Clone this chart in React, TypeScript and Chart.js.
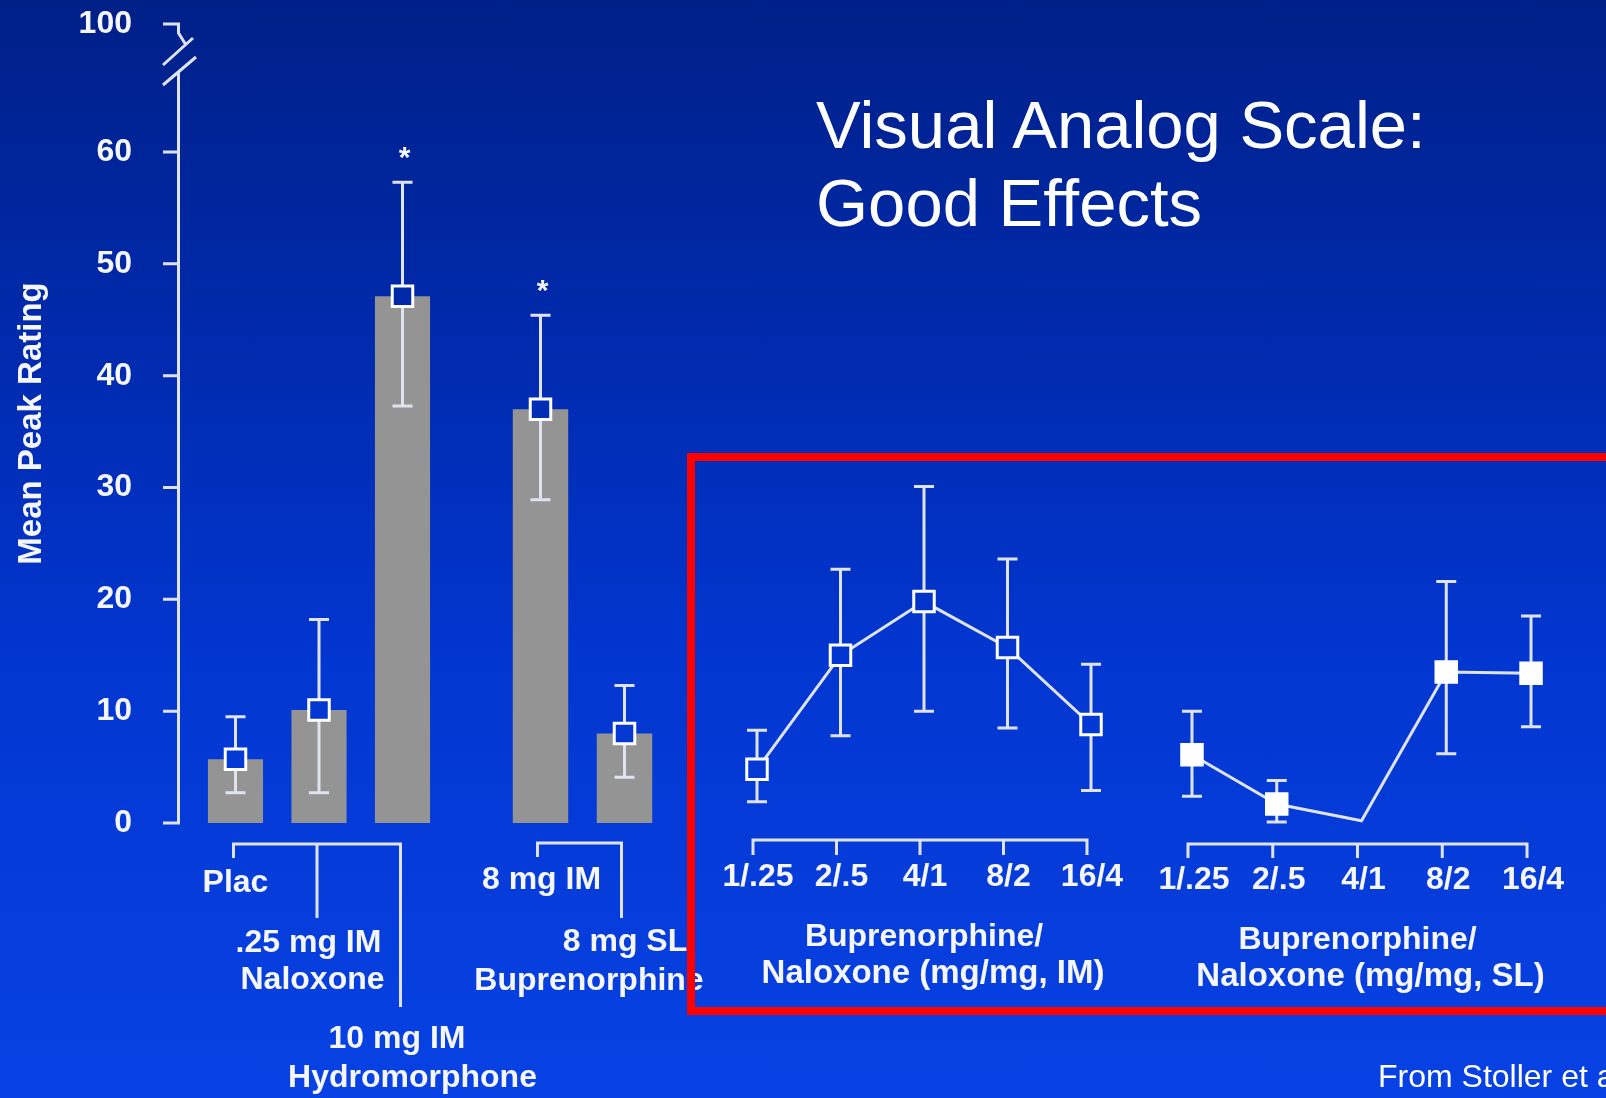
import React, { useEffect, useRef } from 'react';
import { Chart, registerables } from 'chart.js';

Chart.register(...registerables);

// ---------------- data ----------------
const yTickValues = [0, 10, 20, 30, 40, 50, 60, 71.45];
const yTickLabels = ['0', '10', '20', '30', '40', '50', '60', '100'];
const yTitle = 'Mean Peak Rating';

const controlCategories = [['Plac'], ['.25 mg IM', 'Naloxone'], ['10 mg IM', 'Hydromorphone']];
const controlMeans = [5.7, 10.1, 47.1];
const controlErrLow = [2.7, 2.7, 37.3];
const controlErrHigh = [9.5, 18.2, 57.3];
const controlSignificant = [false, false, true];

const buprenorphineCategories = ['8 mg IM', '8 mg SL'];
const buprenorphineGroup = 'Buprenorphine';
const buprenorphineMeans = [37.0, 8.0];
const buprenorphineErrLow = [28.9, 4.1];
const buprenorphineErrHigh = [45.4, 12.3];
const buprenorphineSignificant = [true, false];

const doseLabels = ['1/.25', '2/.5', '4/1', '8/2', '16/4'];

const imTitle = ['Buprenorphine/', 'Naloxone (mg/mg, IM)'];
const imMeans = [4.8, 15.0, 19.8, 15.7, 8.8];
const imErrLow = [1.9, 7.8, 10.0, 8.5, 2.9];
const imErrHigh = [8.3, 22.7, 30.1, 23.6, 14.2];

const slTitle = ['Buprenorphine/', 'Naloxone (mg/mg, SL)'];
const slMeans = [6.1, 1.7, 0.2, 13.5, 13.4];
const slErrLow = [2.4, 0.1, null, 6.2, 8.6];
const slErrHigh = [10.0, 3.8, null, 21.6, 18.5];
const slMarkerShown = [true, true, false, true, true];

const chartTitle = ['Visual Analog Scale:', 'Good Effects'];
const sourceNote = 'From Stoller et al.';

// ---------------- style / layout ----------------
const W = 1606;
const H = 1098;
const FONT = '"Liberation Sans", Arial, Helvetica, sans-serif';
const TEXT_COLOR = '#f4f6fc';
const AXIS_COLOR = '#dfe3f0';
const BAR_COLOR = '#949494';
const PLOT_TOP = 24;
const PLOT_BOTTOM = 823;
const Y_MAX = yTickValues[yTickValues.length - 1];
const AXIS_X = 178.5;
const TICK_LEN = 15.5;
const CAP_HALF = 10;
const MARKER_RADIUS = 14.5;
const LABEL_FONT = `bold 32px ${FONT}`;
const Y_LABEL_RIGHT = 132;
const BAR_BASE = -0.45;

const PANELS = {
  control: { left: 193.75, right: 444.25 },
  bup: { left: 498.5, right: 666.5 },
  im: { left: 715.25, right: 1132.75 },
  sl: { left: 1149.6, right: 1573.4 },
};

const BG_STOPS: [number, number[]][] = [
  [0, [0, 32, 136]],
  [0.3, [0, 42, 172]],
  [0.6, [2, 54, 208]],
  [1, [8, 66, 228]],
];
const BG_CSS = `linear-gradient(180deg, ${BG_STOPS.map(([t, c]) => `rgb(${c.join(',')}) ${t * 100}%`).join(', ')})`;

function bgColorAt(py: number) {
  const t = Math.min(1, Math.max(0, py / H));
  for (let i = 1; i < BG_STOPS.length; i++) {
    const [t0, c0] = BG_STOPS[i - 1];
    const [t1, c1] = BG_STOPS[i];
    if (t <= t1) {
      const f = (t - t0) / (t1 - t0);
      return `rgb(${c0.map((c, k) => Math.round(c + (c1[k] - c) * f)).join(',')})`;
    }
  }
  return `rgb(${BG_STOPS[BG_STOPS.length - 1][1].join(',')})`;
}

function yScale(show: boolean, axisWidth: number): any {
  const base: any = {
    type: 'linear',
    min: 0,
    max: Y_MAX,
    display: show,
    afterBuildTicks: (s: any) => {
      s.ticks = yTickValues.map((v) => ({ value: v }));
    },
  };
  if (!show) return base;
  return {
    ...base,
    afterFit: (s: any) => {
      s.width = axisWidth;
    },
    grid: {
      display: true,
      drawOnChartArea: false,
      drawTicks: true,
      tickLength: axisWidth - Y_LABEL_RIGHT,
      tickColor: 'rgba(0,0,0,0)',
      color: 'rgba(0,0,0,0)',
    },
    border: { display: false },
    ticks: {
      autoSkip: false,
      color: TEXT_COLOR,
      font: { family: FONT, size: 32, weight: 'bold' },
      padding: 0,
      callback: (_v: any, i: number) => yTickLabels[i],
    },
    title: {
      display: true,
      text: yTitle,
      color: TEXT_COLOR,
      font: { family: FONT, size: 33, weight: 'bold' },
      padding: { top: 12, bottom: 0 },
    },
  };
}

function baseOptions(panel: { left: number; right: number }, showY: boolean): any {
  return {
    responsive: false,
    animation: false,
    events: [],
    layout: {
      padding: {
        left: showY ? 0 : panel.left,
        right: W - panel.right,
        top: PLOT_TOP,
        bottom: H - PLOT_BOTTOM,
      },
    },
    plugins: { legend: { display: false }, tooltip: { enabled: false }, title: { display: false } },
    scales: {
      x: { type: 'category', offset: true, display: false },
      y: yScale(showY, panel.left),
    },
  };
}

function barDataset(data: number[]): any {
  return {
    type: 'bar',
    data,
    base: BAR_BASE,
    backgroundColor: BAR_COLOR,
    borderWidth: 0,
    categoryPercentage: 1,
    barPercentage: 0.66,
    order: 2,
  };
}

function markerDataset(data: number[], filled: boolean, showLine: boolean, radius: any = MARKER_RADIUS): any {
  return {
    type: 'line',
    data,
    order: 1,
    showLine,
    fill: false,
    tension: 0,
    borderColor: AXIS_COLOR,
    borderWidth: 3,
    pointStyle: 'rect',
    pointRadius: radius,
    pointHoverRadius: radius,
    pointBorderWidth: 3,
    pointBorderColor: '#ffffff',
    pointBackgroundColor: filled
      ? '#ffffff'
      : (ctx: any) => {
          const ys = ctx.chart.scales.y;
          if (!ctx.parsed || !ys) return bgColorAt(600);
          return bgColorAt(ys.getPixelForValue(ctx.parsed.y));
        },
  };
}

function errorBarPlugin(low: (number | null)[], high: (number | null)[], targetIndex: number) {
  return {
    id: 'errorBars',
    beforeDatasetDraw(chart: any, args: any) {
      if (args.index !== targetIndex) return;
      const { ctx } = chart;
      const x = chart.scales.x;
      const y = chart.scales.y;
      ctx.save();
      ctx.strokeStyle = AXIS_COLOR;
      ctx.lineWidth = 3;
      low.forEach((lo, i) => {
        const hi = high[i];
        if (lo == null || hi == null) return;
        const px = x.getPixelForValue(i);
        const pl = y.getPixelForValue(lo);
        const ph = y.getPixelForValue(hi);
        ctx.beginPath();
        ctx.moveTo(px, pl);
        ctx.lineTo(px, ph);
        ctx.moveTo(px - CAP_HALF, pl);
        ctx.lineTo(px + CAP_HALF, pl);
        ctx.moveTo(px - CAP_HALF, ph);
        ctx.lineTo(px + CAP_HALF, ph);
        ctx.stroke();
      });
      ctx.restore();
    },
  };
}

function asteriskPlugin(high: number[], significant: boolean[]) {
  return {
    id: 'asterisks',
    afterDatasetsDraw(chart: any) {
      const { ctx } = chart;
      const x = chart.scales.x;
      const y = chart.scales.y;
      ctx.save();
      ctx.fillStyle = TEXT_COLOR;
      ctx.font = `bold 30px ${FONT}`;
      ctx.textAlign = 'center';
      ctx.textBaseline = 'alphabetic';
      significant.forEach((s, i) => {
        if (!s) return;
        ctx.fillText('*', x.getPixelForValue(i) + 2, y.getPixelForValue(high[i]) - 15);
      });
      ctx.restore();
    },
  };
}

interface BarBracketSpec {
  bracketDy: number;
  tickDx: number;
  tickLens: number[];
  lineOffsets: { dx: number; dy: number }[][];
  group?: { text: string; dx: number; dy: number };
}

function barBracketPlugin(spec: BarBracketSpec) {
  return {
    id: 'barBrackets',
    afterDraw(chart: any) {
      const { ctx, chartArea } = chart;
      const x = chart.scales.x;
      const labels: any[] = chart.data.labels;
      const centers = labels.map((_: any, i: number) => x.getPixelForValue(i));
      const xs = centers.map((c: number) => c + spec.tickDx);
      const by = chartArea.bottom + spec.bracketDy;
      const last = xs.length - 1;
      ctx.save();
      ctx.strokeStyle = AXIS_COLOR;
      ctx.lineWidth = 3;
      ctx.lineJoin = 'miter';
      ctx.beginPath();
      ctx.moveTo(xs[0], by + spec.tickLens[0]);
      ctx.lineTo(xs[0], by);
      ctx.lineTo(xs[last], by);
      ctx.lineTo(xs[last], by + spec.tickLens[last]);
      for (let i = 1; i < last; i++) {
        ctx.moveTo(xs[i], by);
        ctx.lineTo(xs[i], by + spec.tickLens[i]);
      }
      ctx.stroke();
      ctx.fillStyle = TEXT_COLOR;
      ctx.font = LABEL_FONT;
      ctx.textAlign = 'center';
      ctx.textBaseline = 'middle';
      labels.forEach((lab: any, i: number) => {
        const lines = Array.isArray(lab) ? lab : [lab];
        lines.forEach((t: string, j: number) => {
          const o = spec.lineOffsets[i][j];
          ctx.fillText(t, centers[i] + o.dx, chartArea.bottom + o.dy);
        });
      });
      if (spec.group) {
        const cx = centers.reduce((a: number, b: number) => a + b, 0) / centers.length;
        ctx.fillText(spec.group.text, cx + spec.group.dx, chartArea.bottom + spec.group.dy);
      }
      ctx.restore();
    },
  };
}

interface LineBracketSpec {
  bracketDy: number;
  tickDx: number;
  tickLen: number;
  labelDx: number;
  labelDy: number;
  title: string[];
  titleOffsets: { dx: number; dy: number }[];
}

function lineBracketPlugin(spec: LineBracketSpec) {
  return {
    id: 'lineBrackets',
    afterDraw(chart: any) {
      const { ctx, chartArea } = chart;
      const x = chart.scales.x;
      const labels: any[] = chart.data.labels;
      const centers = labels.map((_: any, i: number) => x.getPixelForValue(i));
      const xs = centers.map((c: number) => c + spec.tickDx);
      const by = chartArea.bottom + spec.bracketDy;
      const last = xs.length - 1;
      ctx.save();
      ctx.strokeStyle = AXIS_COLOR;
      ctx.lineWidth = 3;
      ctx.beginPath();
      ctx.moveTo(xs[0], by + spec.tickLen);
      ctx.lineTo(xs[0], by);
      ctx.lineTo(xs[last], by);
      ctx.lineTo(xs[last], by + spec.tickLen);
      for (let i = 1; i < last; i++) {
        ctx.moveTo(xs[i], by);
        ctx.lineTo(xs[i], by + spec.tickLen);
      }
      ctx.stroke();
      ctx.fillStyle = TEXT_COLOR;
      ctx.font = LABEL_FONT;
      ctx.textAlign = 'center';
      ctx.textBaseline = 'middle';
      labels.forEach((lab: string, i: number) => {
        ctx.fillText(lab, centers[i] + spec.labelDx, chartArea.bottom + spec.labelDy);
      });
      const cx = (centers[0] + centers[last]) / 2;
      spec.title.forEach((t, j) => {
        const o = spec.titleOffsets[j];
        ctx.font = j === 0 ? LABEL_FONT : `bold 33px ${FONT}`;
        ctx.fillText(t, cx + o.dx, chartArea.bottom + o.dy);
      });
      ctx.restore();
    },
  };
}

const brokenAxisPlugin = {
  id: 'brokenYAxis',
  afterDraw(chart: any) {
    const { ctx } = chart;
    const y = chart.scales.y;
    const ax = AXIS_X;
    const top = y.getPixelForValue(Y_MAX);
    const bottom = y.getPixelForValue(0);
    ctx.save();
    ctx.strokeStyle = AXIS_COLOR;
    ctx.lineWidth = 3;
    ctx.lineJoin = 'miter';
    ctx.beginPath();
    ctx.moveTo(ax - TICK_LEN, top);
    ctx.lineTo(ax, top);
    ctx.lineTo(ax, top + 9);
    ctx.lineTo(ax + 7.5, top + 21);
    ctx.moveTo(ax - 15.5, top + 41);
    ctx.lineTo(ax + 14.5, top + 14);
    ctx.moveTo(ax - 15.5, top + 61);
    ctx.lineTo(ax + 17.5, top + 33);
    ctx.moveTo(ax, top + 47);
    ctx.lineTo(ax, bottom);
    ctx.lineTo(ax - TICK_LEN, bottom);
    y.ticks.forEach((t: any) => {
      if (t.value === 0 || t.value === Y_MAX) return;
      const p = y.getPixelForValue(t.value);
      ctx.moveTo(ax - TICK_LEN, p);
      ctx.lineTo(ax, p);
    });
    ctx.stroke();
    ctx.restore();
  },
};

export default function App() {
  const refA = useRef<HTMLCanvasElement>(null);
  const refB = useRef<HTMLCanvasElement>(null);
  const refIM = useRef<HTMLCanvasElement>(null);
  const refSL = useRef<HTMLCanvasElement>(null);

  useEffect(() => {
    const charts: Chart[] = [];

    charts.push(
      new Chart(refA.current as HTMLCanvasElement, {
        type: 'bar',
        data: {
          labels: controlCategories as any,
          datasets: [barDataset(controlMeans), markerDataset(controlMeans, false, false)],
        },
        options: baseOptions(PANELS.control, true),
        plugins: [
          errorBarPlugin(controlErrLow, controlErrHigh, 1),
          asteriskPlugin(controlErrHigh, controlSignificant),
          barBracketPlugin({
            bracketDy: 21,
            tickDx: -2,
            tickLens: [14, 74, 163],
            lineOffsets: [
              [{ dx: 0, dy: 60 }],
              [{ dx: -10.5, dy: 120 }, { dx: -6.5, dy: 157 }],
              [{ dx: -5.5, dy: 216 }, { dx: 10, dy: 255 }],
            ],
          }),
          brokenAxisPlugin,
        ] as any,
      })
    );

    charts.push(
      new Chart(refB.current as HTMLCanvasElement, {
        type: 'bar',
        data: {
          labels: buprenorphineCategories,
          datasets: [barDataset(buprenorphineMeans), markerDataset(buprenorphineMeans, false, false)],
        },
        options: baseOptions(PANELS.bup, false),
        plugins: [
          errorBarPlugin(buprenorphineErrLow, buprenorphineErrHigh, 1),
          asteriskPlugin(buprenorphineErrHigh, buprenorphineSignificant),
          barBracketPlugin({
            bracketDy: 20,
            tickDx: -3,
            tickLens: [14, 75],
            lineOffsets: [[{ dx: 1, dy: 57 }], [{ dx: 0.5, dy: 119 }]],
            group: { text: buprenorphineGroup, dx: 6.5, dy: 158 },
          }),
        ] as any,
      })
    );

    charts.push(
      new Chart(refIM.current as HTMLCanvasElement, {
        type: 'line',
        data: {
          labels: doseLabels,
          datasets: [markerDataset(imMeans, false, true)],
        },
        options: baseOptions(PANELS.im, false),
        plugins: [
          errorBarPlugin(imErrLow, imErrHigh, 0),
          lineBracketPlugin({
            bracketDy: 17,
            tickDx: -4,
            tickLen: 15,
            labelDx: 1,
            labelDy: 54,
            title: imTitle,
            titleOffsets: [{ dx: 0, dy: 114 }, { dx: 9, dy: 151 }],
          }),
        ] as any,
      })
    );

    charts.push(
      new Chart(refSL.current as HTMLCanvasElement, {
        type: 'line',
        data: {
          labels: doseLabels,
          datasets: [
            markerDataset(
              slMeans,
              true,
              true,
              slMarkerShown.map((s) => (s ? MARKER_RADIUS : 0))
            ),
          ],
        },
        options: baseOptions(PANELS.sl, false),
        plugins: [
          errorBarPlugin(slErrLow, slErrHigh, 0),
          lineBracketPlugin({
            bracketDy: 21,
            tickDx: -4,
            tickLen: 14,
            labelDx: 2,
            labelDy: 57,
            title: slTitle,
            titleOffsets: [{ dx: -4, dy: 117 }, { dx: 9, dy: 154 }],
          }),
        ] as any,
      })
    );

    return () => {
      charts.forEach((c) => c.destroy());
    };
  }, []);

  const canvasStyle: React.CSSProperties = {
    position: 'absolute',
    left: 0,
    top: 0,
    width: W,
    height: H,
  };

  return (
    <div
      style={{
        position: 'fixed',
        left: 0,
        top: 0,
        width: W,
        height: H,
        overflow: 'hidden',
        background: BG_CSS,
      }}
    >
      <canvas ref={refA} width={W} height={H} style={canvasStyle} />
      <canvas ref={refB} width={W} height={H} style={canvasStyle} />
      <canvas ref={refIM} width={W} height={H} style={canvasStyle} />
      <canvas ref={refSL} width={W} height={H} style={canvasStyle} />
      <div
        style={{
          position: 'absolute',
          left: 816,
          top: 86,
          color: '#ffffff',
          fontFamily: FONT,
          fontSize: 67,
          lineHeight: '78px',
          whiteSpace: 'nowrap',
        }}
      >
        {chartTitle.map((line) => (
          <div key={line}>{line}</div>
        ))}
      </div>
      <div
        style={{
          position: 'absolute',
          left: 687,
          top: 453,
          width: 1000,
          height: 562,
          border: '8px solid #ff0000',
          boxSizing: 'border-box',
        }}
      />
      <div
        style={{
          position: 'absolute',
          left: 1378,
          top: 1058,
          color: '#ffffff',
          fontFamily: FONT,
          fontSize: 32,
          lineHeight: '36px',
          whiteSpace: 'nowrap',
        }}
      >
        {sourceNote}
      </div>
    </div>
  );
}
